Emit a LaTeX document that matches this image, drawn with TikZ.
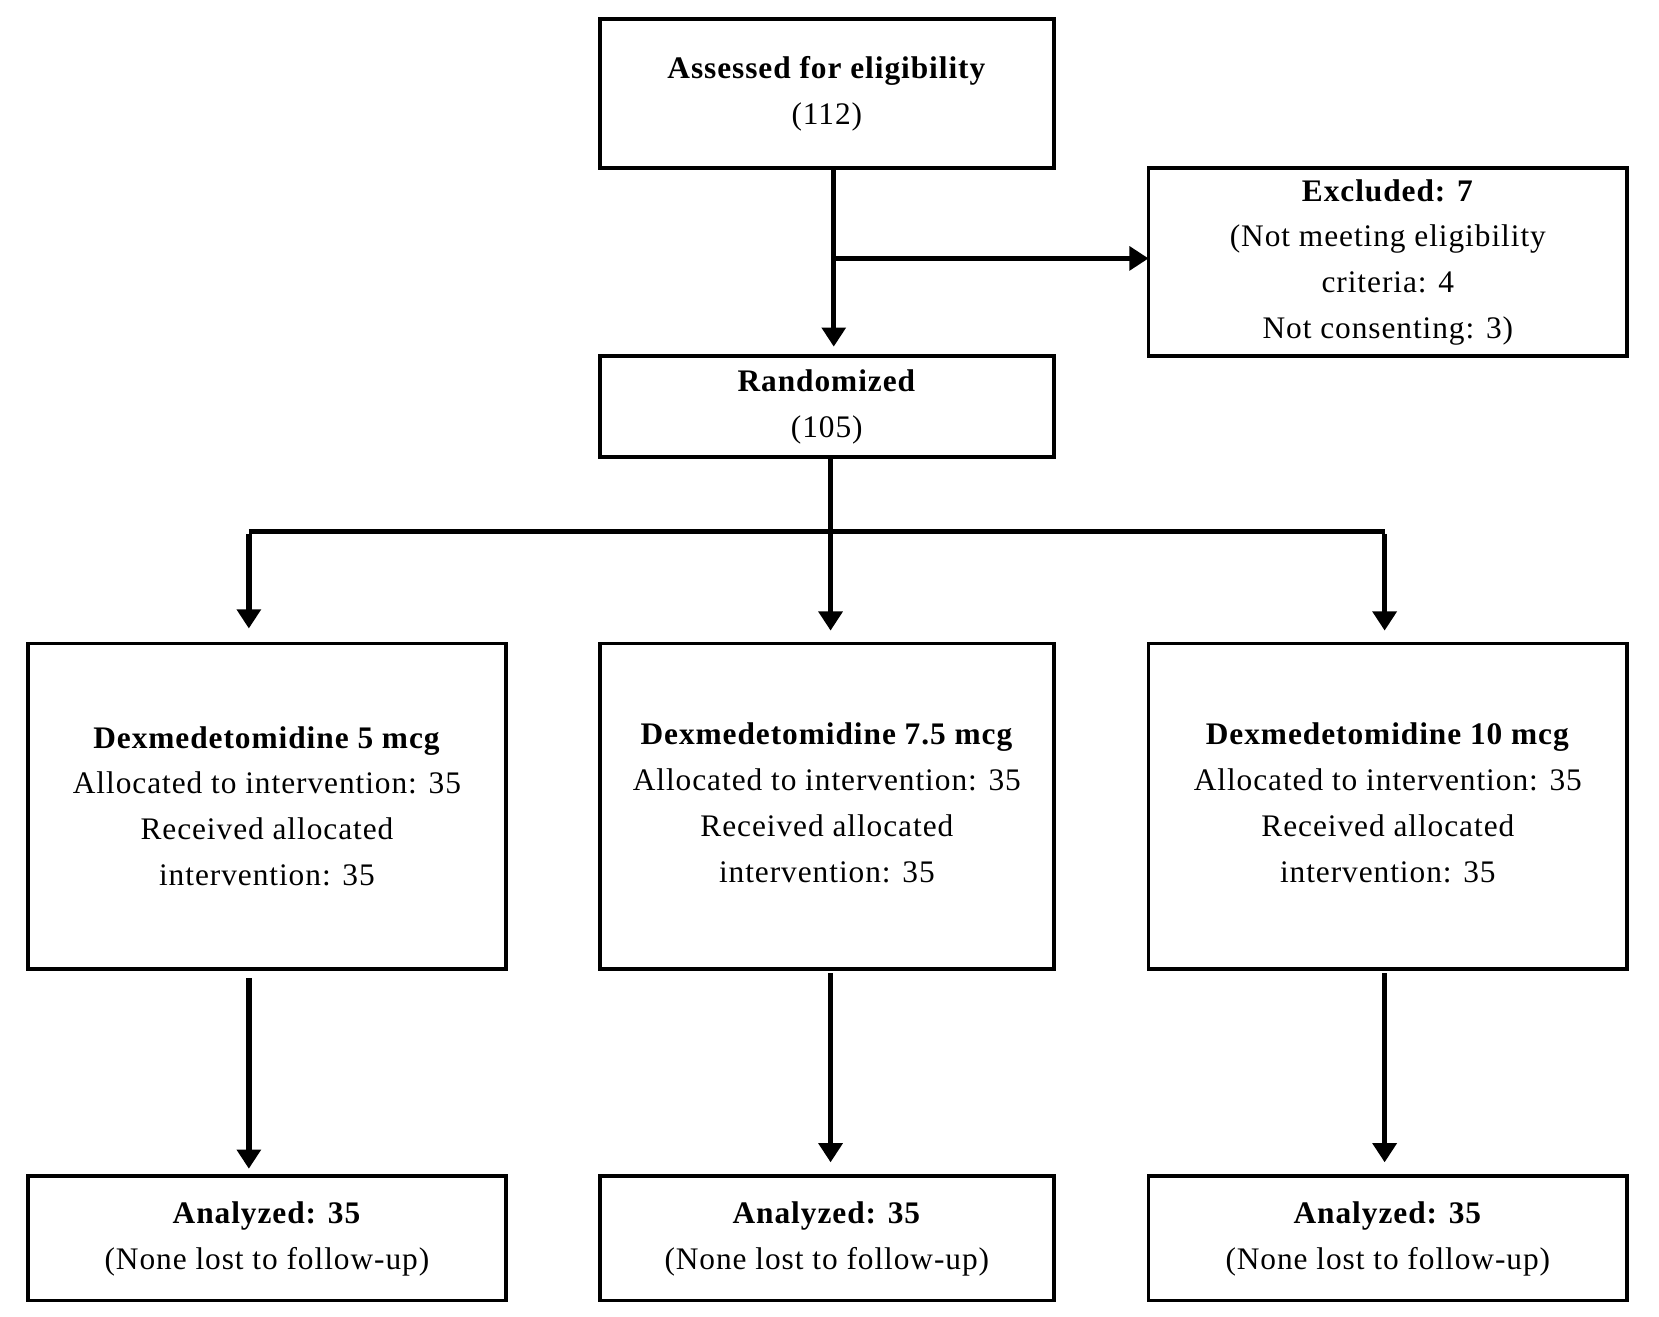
\documentclass[tikz,border=0pt]{standalone}
\usepackage{fontspec}
\setmainfont[LetterSpace=3]{Liberation Serif}
\usetikzlibrary{arrows.meta}
\begin{document}
\begin{tikzpicture}[x=1pt,y=-1pt,
 box/.style={draw,line width=3.5pt,inner sep=0pt},
 txt/.style={font=\fontsize{29.5}{43}\selectfont,align=center},
 arr/.style={line width=5pt,-{Triangle[length=18pt,width=22pt]}},
 ln/.style={line width=5pt}]
\useasboundingbox (0,0) rectangle (1560,1238);
\node[box,minimum width=427pt,minimum height=140pt] (a) at (777.5,88) {};
\node[txt] at (777.5,88) {\textbf{Assessed for eligibility}\\(112)};
\node[box,minimum width=450pt,minimum height=177pt] (e) at (1305,246.5) {};
\node[txt] at (1305,246.5) {\textbf{Excluded: 7}\\(Not meeting eligibility\\criteria: 4\\Not consenting: 3)};
\node[box,minimum width=427pt,minimum height=95pt] (r) at (777.5,382.5) {};
\node[txt] at (777.5,382.5) {\textbf{Randomized}\\(105)};
\foreach \n/\x/\w in {g1/251/450,g2/777.5/427,g3/1305/450}
  \node[box,minimum width=\w pt,minimum height=306pt] (\n) at (\x,758) {};
\node[txt] at (251,758) {\textbf{Dexmedetomidine 5 mcg}\\Allocated to intervention: 35\\Received allocated\\intervention: 35};
\node[txt] at (777.5,755) {\textbf{Dexmedetomidine 7.5 mcg}\\Allocated to intervention: 35\\Received allocated\\intervention: 35};
\node[txt] at (1305,755) {\textbf{Dexmedetomidine 10 mcg}\\Allocated to intervention: 35\\Received allocated\\intervention: 35};
\foreach \n/\x/\w in {b1/251/450,b2/777.5/427,b3/1305/450}{
  \node[box,minimum width=\w pt,minimum height=117pt] (\n) at (\x,1164.5) {};
  \node[txt] at (\x,1165) {\textbf{Analyzed: 35}\\(None lost to follow-up)};}
\coordinate (s1) at (784,160); \coordinate (t1) at (784,326);
\coordinate (j1) at (784,243); \coordinate (je) at (1080,243);
\draw[arr] (s1) -- (t1);
\draw[arr] (j1) -- (je);
\coordinate (s2) at (781,432); \coordinate (j2) at (781,500);
\coordinate (l) at (234,500); \coordinate (rr) at (1302,500);
\draw[ln] (s2) -- (j2);
\draw[ln] (l) -- (rr);
\draw[arr] ([yshift=-2.5pt]l) -- (234,591);
\draw[arr] (j2) -- (781,593);
\draw[arr] ([yshift=-2.5pt]rr) -- (1302,593);
\coordinate (c1) at (234,920); \coordinate (c2) at (781,915); \coordinate (c3) at (1302,915);
\draw[arr] (c1) -- (234,1099);
\draw[arr] (c2) -- (781,1093);
\draw[arr] (c3) -- (1302,1093);
\end{tikzpicture}
\end{document}
